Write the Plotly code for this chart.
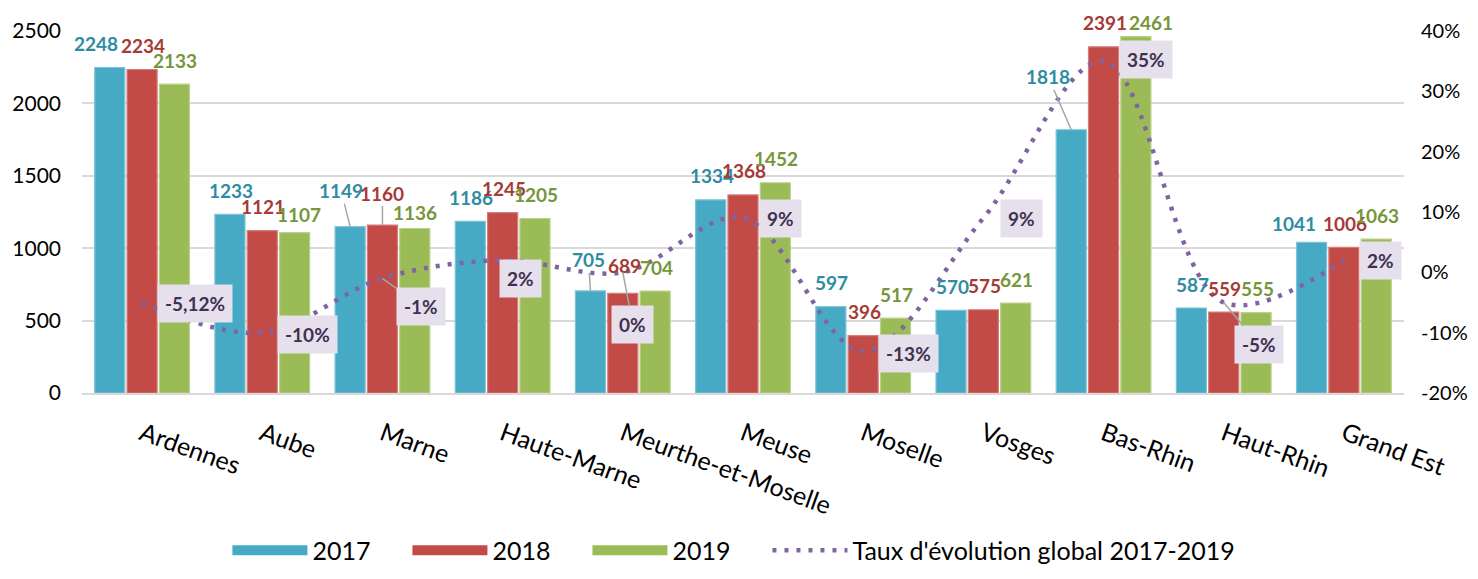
import plotly.graph_objects as go

categories = ["Ardennes", "Aube", "Marne", "Haute-Marne", "Meurthe-et-Moselle", "Meuse",
              "Moselle", "Vosges", "Bas-Rhin", "Haut-Rhin", "Grand Est"]
values_2017 = [2248, 1233, 1149, 1186, 705, 1334, 597, 570, 1818, 587, 1041]
values_2018 = [2234, 1121, 1160, 1245, 689, 1368, 396, 575, 2391, 559, 1006]
values_2019 = [2133, 1107, 1136, 1205, 704, 1452, 517, 621, 2461, 555, 1063]
rate_pct = [-5.12, -10, -1, 2, 0, 9, -13, 9, 35, -5, 2]
y2_ticks = [-0.2, -0.1, 0, 0.1, 0.2, 0.3, 0.4]
y2_ticktext = ["-20%", "-10%", "0%", "10%", "20%", "30%", "40%"]

FONT = "Lato"
series = [
    ("2017", values_2017, "#46AAC5", "#7CC3D8", "#2E8CA3"),
    ("2018", values_2018, "#C24B48", "#D77C79", "#A63A38"),
    ("2019", values_2019, "#9BBB56", "#B9D18A", "#76963A"),
]
BARGAP = 0.193
BARGROUPGAP = 0.07
slot = (1 - BARGAP) / 3
PAD = "\u00a0" * 5  # legend spacing

fig = go.Figure()
for name, vals, col, edge, _ in series:
    fig.add_trace(go.Bar(x=categories, y=vals, name=name, showlegend=False,
                         marker=dict(color=col, line=dict(color=edge, width=1.2))))

# legend-only entries with wide swatches (no data drawn)
for name, vals, col, edge, _ in series:
    fig.add_trace(go.Scatter(x=[categories[0]], y=[None], name=name + PAD, mode="lines",
                             line=dict(color=col, width=17)))

rates = [r / 100 for r in rate_pct]
fig.add_trace(go.Scatter(x=categories, y=rates, name="Taux d'évolution global 2017-2019",
                         yaxis="y2", mode="lines",
                         line=dict(color="#8064A2", width=4.5, dash="4px,8px", shape="spline", smoothing=1.0)))

# label placement tweaks: (series, index) -> (dx px, center height above bar px, leader line)
value_adj = {
    (0, 0): (-14, 24, False),
    (0, 2): (-9, 36, True), (1, 2): (0, 32, True), (2, 2): (0, 16, False),
    (2, 1): (4, 18, False), (0, 4): (-2, 31, True), (1, 4): (2, 28, False),
    (0, 8): (-23, 53, True), (2, 8): (15, 14, False), (0, 10): (-18, 19, False),
}
annotations = []
for s, (name, vals, col, edge, tcol) in enumerate(series):
    for i, v in enumerate(vals):
        dx, up, leader = value_adj.get((s, i), (1, 24, False))
        xpos = i + (s - 1) * slot
        common = dict(x=xpos, y=v, xref="x", yref="y", text=f"<b>{v}</b>",
                      font=dict(family=FONT, size=19, color=tcol))
        if leader:
            annotations.append(dict(**common, showarrow=True, arrowhead=0, arrowwidth=1.5,
                                    arrowcolor="#A6A6A6", ax=dx, ay=-up, standoff=0))
        else:
            annotations.append(dict(**common, showarrow=False, xshift=dx, yshift=up,
                                    yanchor="middle"))

# percent label offsets: index -> (dx px, dy down px, leader)
pct_adj = [(53, 0, False), (45, 2, False), (39, 28, True), (18, 18, False), (10, 52, True),
           (37, 0, False), (45, 3, False), (38, 0, False), (42, -2, False), (35, 42, True),
           (37, 0, False)]
for i, r in enumerate(rate_pct):
    txt = (f"{r:.2f}".replace(".", ",") if r != int(r) else f"{int(r)}") + "%"
    dx, dy, leader = pct_adj[i]
    common = dict(x=i, y=rates[i], xref="x", yref="y2", text=f"<b>{txt}</b>",
                  font=dict(family=FONT, size=19, color="#3F3151"),
                  bgcolor="#E6E0EC", borderpad=7)
    if leader:
        annotations.append(dict(**common, showarrow=True, arrowhead=0, arrowwidth=1.5,
                                arrowcolor="#A6A6A6", ax=dx, ay=dy, standoff=0))
    else:
        annotations.append(dict(**common, showarrow=False, xshift=dx, yshift=-dy))

# page body has an 8px margin, so the figure is sized/offset to fit the window
fig.update_layout(
    width=1462, height=563,
    margin=dict(l=74, r=66, t=23, b=178, autoexpand=False),
    paper_bgcolor="white", plot_bgcolor="white",
    barmode="group", bargap=BARGAP, bargroupgap=BARGROUPGAP,
    font=dict(family=FONT, color="#000000"),
    annotations=annotations,
    xaxis=dict(range=[-0.5, len(categories) - 0.5], tickangle=20, tickfont=dict(size=25),
               showline=True, linecolor="#D9D9D9", linewidth=1.5, ticks="",
               ticklabelstandoff=15, automargin=False),
    yaxis=dict(range=[0, 2500], dtick=500, showgrid=True, gridcolor="#D9D9D9", gridwidth=1.5,
               zeroline=False, tickfont=dict(size=21), ticks="", ticklabelstandoff=20,
               automargin=False),
    yaxis2=dict(range=[-0.2, 0.4], overlaying="y", side="right", tickvals=y2_ticks,
                ticktext=y2_ticktext, showgrid=False, zeroline=False, tickfont=dict(size=20),
                ticks="", ticklabelstandoff=16, automargin=False),
    legend=dict(orientation="h", x=0.11, xanchor="left", y=-0.435, yanchor="middle",
                font=dict(size=25), itemwidth=75, traceorder="normal", tracegroupgap=0),
    showlegend=True,
)

fig.write_html("out.html")
